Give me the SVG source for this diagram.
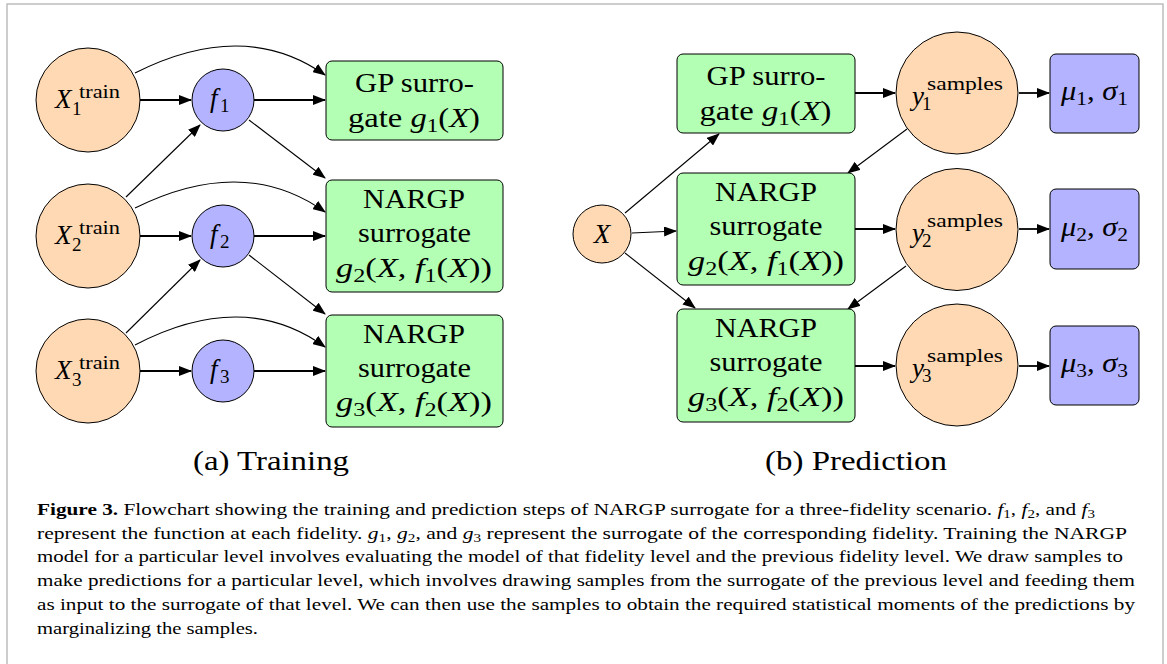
<svg xmlns="http://www.w3.org/2000/svg" width="1167" height="664" viewBox="0 0 1167 664">
<style>
.or{fill:#FFD9B3;stroke:#000;stroke-width:1}
.bl{fill:#B3B3FF;stroke:#000;stroke-width:1}
.gr{fill:#B3FFB3;stroke:#000;stroke-width:1}
.t{font-family:"Liberation Serif",serif;font-size:27px;fill:#000}
.m{font-style:italic}
.s{font-size:19px}
.thick{stroke:#000;stroke-width:1.8;fill:none;marker-end:url(#ah)}
.thin{stroke:#000;stroke-width:1.1;fill:none;marker-end:url(#ah)}
.cap{font-family:"Liberation Serif",serif;font-size:17px;fill:#000}
.sub{font-size:12px}
</style>
<defs>
<marker id="ah" markerWidth="13" markerHeight="10" refX="12" refY="5" orient="auto" markerUnits="userSpaceOnUse"><path d="M0,0 L13,5 L0,10 z" fill="#000"/></marker>
</defs>
<path d="M7,664 V4 H1163 V664" fill="none" stroke="#bdbdbd" stroke-width="1.5"/>

<g id="connectors">
<path class="thick" d="M140,100 H191"/>
<path class="thick" d="M254,100 H325"/>
<path class="thin" d="M135,73 Q244,18 325,75"/>
<path class="thin" d="M249,120 L325,178"/>
<path class="thin" d="M126,197 L200,125"/>
<path class="thick" d="M140,236 H191"/>
<path class="thick" d="M254,236 H325"/>
<path class="thin" d="M135,208 Q244,154 325,212"/>
<path class="thin" d="M249,255 L325,314"/>
<path class="thin" d="M126,333 L200,260"/>
<path class="thick" d="M140,371 H191"/>
<path class="thick" d="M254,371 H325"/>
<path class="thin" d="M135,345 Q244,288 325,347"/>
<path class="thin" d="M625,213 L719,134"/>
<path class="thin" d="M632,233 L676,231"/>
<path class="thin" d="M625,253 L695,308"/>
<path class="thick" d="M855,93 H895"/>
<path class="thick" d="M1019,93 H1049"/>
<path class="thin" d="M907,129 L848,173"/>
<path class="thick" d="M855,229 H895"/>
<path class="thick" d="M1019,229 H1049"/>
<path class="thin" d="M906,266 L848,309"/>
<path class="thick" d="M855,366 H895"/>
<path class="thick" d="M1019,366 H1049"/>
</g>

<g id="x1train"><circle class="or" cx="88" cy="100" r="52"/>
<text class="t m" x="55" y="108" font-size="29">X</text><text class="t s" x="79" y="98" textLength="41" lengthAdjust="spacingAndGlyphs">train</text><text class="t s" x="72" y="115">1</text></g>
<g id="x2train"><circle class="or" cx="88" cy="236" r="52"/>
<text class="t m" x="55" y="244" font-size="29">X</text><text class="t s" x="79" y="234" textLength="41" lengthAdjust="spacingAndGlyphs">train</text><text class="t s" x="72" y="251">2</text></g>
<g id="x3train"><circle class="or" cx="88" cy="371" r="52"/>
<text class="t m" x="55" y="379" font-size="29">X</text><text class="t s" x="79" y="369" textLength="41" lengthAdjust="spacingAndGlyphs">train</text><text class="t s" x="72" y="386">3</text></g>

<g id="f1"><circle class="bl" cx="223" cy="100" r="31"/><text class="t m" x="210" y="107">f</text><text class="t s" x="220" y="112">1</text></g>
<g id="f2"><circle class="bl" cx="223" cy="236" r="31"/><text class="t m" x="210" y="243">f</text><text class="t s" x="220" y="248">2</text></g>
<g id="f3"><circle class="bl" cx="223" cy="371" r="31"/><text class="t m" x="210" y="378">f</text><text class="t s" x="220" y="383">3</text></g>

<g id="gp_train"><rect class="gr" x="326" y="61" width="177" height="79" rx="6"/>
<text class="t" x="355" y="92" textLength="119" lengthAdjust="spacingAndGlyphs">GP surro-</text>
<text class="t" x="348" y="127" textLength="132" lengthAdjust="spacingAndGlyphs">gate <tspan class="m">g</tspan><tspan class="s" dy="5">1</tspan><tspan dy="-5">(</tspan><tspan class="m">X</tspan>)</text></g>

<g id="nargp2_train"><rect class="gr" x="326" y="180" width="177" height="112" rx="6"/>
<text class="t" x="363" y="208" textLength="102" lengthAdjust="spacingAndGlyphs">NARGP</text>
<text class="t" x="358" y="242" textLength="113" lengthAdjust="spacingAndGlyphs">surrogate</text>
<text class="t" x="336" y="277" textLength="156" lengthAdjust="spacingAndGlyphs"><tspan class="m">g</tspan><tspan class="s" dy="5">2</tspan><tspan dy="-5">(</tspan><tspan class="m">X</tspan>, <tspan class="m">f</tspan><tspan class="s" dy="5">1</tspan><tspan dy="-5">(</tspan><tspan class="m">X</tspan>))</text></g>

<g id="nargp3_train"><rect class="gr" x="326" y="315" width="177" height="112" rx="6"/>
<text class="t" x="363" y="343" textLength="102" lengthAdjust="spacingAndGlyphs">NARGP</text>
<text class="t" x="358" y="377" textLength="113" lengthAdjust="spacingAndGlyphs">surrogate</text>
<text class="t" x="336" y="411" textLength="156" lengthAdjust="spacingAndGlyphs"><tspan class="m">g</tspan><tspan class="s" dy="5">3</tspan><tspan dy="-5">(</tspan><tspan class="m">X</tspan>, <tspan class="m">f</tspan><tspan class="s" dy="5">2</tspan><tspan dy="-5">(</tspan><tspan class="m">X</tspan>))</text></g>

<g id="xin"><circle class="or" cx="602" cy="234" r="29"/><text class="t m" x="602" y="243" text-anchor="middle" font-size="28">X</text></g>

<g id="gp_pred"><rect class="gr" x="677" y="54" width="178" height="79" rx="6"/>
<text class="t" x="706.5" y="85" textLength="119" lengthAdjust="spacingAndGlyphs">GP surro-</text>
<text class="t" x="699.5" y="120" textLength="132" lengthAdjust="spacingAndGlyphs">gate <tspan class="m">g</tspan><tspan class="s" dy="5">1</tspan><tspan dy="-5">(</tspan><tspan class="m">X</tspan>)</text></g>

<g id="nargp2_pred"><rect class="gr" x="677" y="173" width="178" height="112" rx="6"/>
<text class="t" x="715" y="201" textLength="102" lengthAdjust="spacingAndGlyphs">NARGP</text>
<text class="t" x="709.5" y="235" textLength="113" lengthAdjust="spacingAndGlyphs">surrogate</text>
<text class="t" x="688" y="270" textLength="156" lengthAdjust="spacingAndGlyphs"><tspan class="m">g</tspan><tspan class="s" dy="5">2</tspan><tspan dy="-5">(</tspan><tspan class="m">X</tspan>, <tspan class="m">f</tspan><tspan class="s" dy="5">1</tspan><tspan dy="-5">(</tspan><tspan class="m">X</tspan>))</text></g>

<g id="nargp3_pred"><rect class="gr" x="677" y="309" width="178" height="113" rx="6"/>
<text class="t" x="715" y="337" textLength="102" lengthAdjust="spacingAndGlyphs">NARGP</text>
<text class="t" x="709.5" y="371" textLength="113" lengthAdjust="spacingAndGlyphs">surrogate</text>
<text class="t" x="688" y="406" textLength="156" lengthAdjust="spacingAndGlyphs"><tspan class="m">g</tspan><tspan class="s" dy="5">3</tspan><tspan dy="-5">(</tspan><tspan class="m">X</tspan>, <tspan class="m">f</tspan><tspan class="s" dy="5">2</tspan><tspan dy="-5">(</tspan><tspan class="m">X</tspan>))</text></g>

<g id="y1"><circle class="or" cx="957" cy="93" r="61"/>
<text class="t m" x="912" y="105" font-size="28">y</text><text class="t s" x="927" y="90" textLength="76" lengthAdjust="spacingAndGlyphs">samples</text><text class="t s" x="922" y="110">1</text></g>
<g id="y2"><circle class="or" cx="957" cy="229.5" r="61"/>
<text class="t m" x="912" y="241.5" font-size="28">y</text><text class="t s" x="927" y="226.5" textLength="76" lengthAdjust="spacingAndGlyphs">samples</text><text class="t s" x="922" y="246.5">2</text></g>
<g id="y3"><circle class="or" cx="957" cy="365" r="61"/>
<text class="t m" x="912" y="377" font-size="28">y</text><text class="t s" x="927" y="362" textLength="76" lengthAdjust="spacingAndGlyphs">samples</text><text class="t s" x="922" y="382">3</text></g>

<g id="mu1"><rect class="bl" x="1050" y="54" width="89" height="79" rx="6"/>
<text class="t" x="1061" y="100" textLength="67" lengthAdjust="spacingAndGlyphs"><tspan class="m">μ</tspan><tspan class="s" dy="5">1</tspan><tspan dy="-5">, </tspan><tspan class="m">σ</tspan><tspan class="s" dy="5">1</tspan></text></g>
<g id="mu2"><rect class="bl" x="1050" y="189" width="89" height="80" rx="6"/>
<text class="t" x="1061" y="236" textLength="67" lengthAdjust="spacingAndGlyphs"><tspan class="m">μ</tspan><tspan class="s" dy="5">2</tspan><tspan dy="-5">, </tspan><tspan class="m">σ</tspan><tspan class="s" dy="5">2</tspan></text></g>
<g id="mu3"><rect class="bl" x="1050" y="326" width="89" height="79" rx="6"/>
<text class="t" x="1061" y="372" textLength="67" lengthAdjust="spacingAndGlyphs"><tspan class="m">μ</tspan><tspan class="s" dy="5">3</tspan><tspan dy="-5">, </tspan><tspan class="m">σ</tspan><tspan class="s" dy="5">3</tspan></text></g>

<text class="t" x="193" y="470" font-size="27" textLength="156" lengthAdjust="spacingAndGlyphs">(a) Training</text>
<text class="t" x="765" y="470" font-size="27" textLength="182" lengthAdjust="spacingAndGlyphs">(b) Prediction</text>

<g id="caption" class="cap">
<text x="37" y="515" textLength="1058" lengthAdjust="spacingAndGlyphs"><tspan font-weight="bold">Figure 3.</tspan> Flowchart showing the training and prediction steps of NARGP surrogate for a three-fidelity scenario. <tspan class="m">f</tspan><tspan class="sub" dy="3">1</tspan><tspan dy="-3">, </tspan><tspan class="m">f</tspan><tspan class="sub" dy="3">2</tspan><tspan dy="-3">, and </tspan><tspan class="m">f</tspan><tspan class="sub" dy="3">3</tspan></text>
<text x="37" y="538.5" textLength="1090" lengthAdjust="spacingAndGlyphs">represent the function at each fidelity. <tspan class="m">g</tspan><tspan class="sub" dy="3">1</tspan><tspan dy="-3">, </tspan><tspan class="m">g</tspan><tspan class="sub" dy="3">2</tspan><tspan dy="-3">, and </tspan><tspan class="m">g</tspan><tspan class="sub" dy="3">3</tspan><tspan dy="-3"> represent the surrogate of the corresponding fidelity. Training the NARGP</tspan></text>
<text x="37" y="562" textLength="1086" lengthAdjust="spacingAndGlyphs">model for a particular level involves evaluating the model of that fidelity level and the previous fidelity level. We draw samples to</text>
<text x="37" y="586" textLength="1098" lengthAdjust="spacingAndGlyphs">make predictions for a particular level, which involves drawing samples from the surrogate of the previous level and feeding them</text>
<text x="37" y="610" textLength="1098" lengthAdjust="spacingAndGlyphs">as input to the surrogate of that level. We can then use the samples to obtain the required statistical moments of the predictions by</text>
<text x="37" y="633.5" textLength="221" lengthAdjust="spacingAndGlyphs">marginalizing the samples.</text>
</g>
</svg>
